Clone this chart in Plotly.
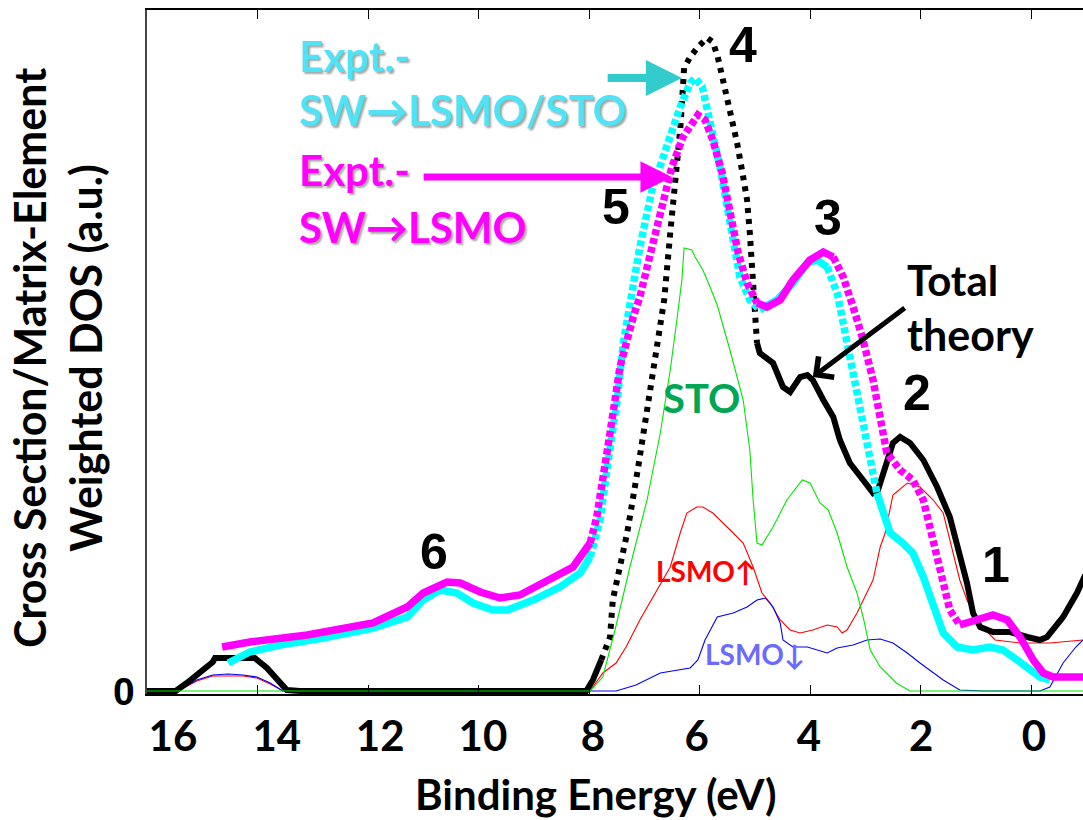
import plotly.graph_objects as go

# ---------------- data (binding energy in eV, intensity in a.u.) ----------------
black_E = [16.0, 15.48, 15.28, 15.04, 14.81, 14.77, 14.05, 13.83, 13.65, 13.47, 13.23, 8.05, 7.93, 7.78, 7.62,
           7.57, 7.31, 7.11, 6.93, 6.77, 6.64, 6.53, 6.41, 6.35, 6.30, 6.28, 6.17, 6.03, 5.86, 5.76, 5.67,
           5.57, 5.45, 5.32, 5.21, 5.14, 5.09, 5.05, 5.03, 5.01, 4.96, 4.91, 4.67, 4.49, 4.36, 4.18, 4.05,
           3.95, 3.76, 3.58, 3.46, 3.28, 3.04, 2.86, 2.77, 2.61, 2.50, 2.37, 2.19, 1.95, 1.70, 1.47, 1.29,
           1.16, 1.05, 0.92, 0.69, 0.38, 0.07, -0.16, -0.29, -0.58, -0.83, -0.98]
black_y = [0, 0, 0.08, 0.18, 0.29, 0.33, 0.33, 0.23, 0.13, 0.01, 0, 0, 0.11, 0.31, 0.54,
           0.91, 1.58, 2.24, 2.91, 3.48, 3.91, 4.58, 5.24, 5.61, 6.04, 6.23, 6.34, 6.44, 6.53, 6.49, 6.34,
           6.11, 5.81, 5.48, 5.14, 4.91, 4.58, 4.24, 3.94, 3.68, 3.48, 3.38, 3.28, 3.04, 2.99, 3.14, 3.16,
           3.11, 2.91, 2.74, 2.51, 2.28, 2.11, 1.98, 2.01, 2.31, 2.48, 2.54, 2.48, 2.31, 2.04, 1.74, 1.38,
           1.08, 0.78, 0.64, 0.59, 0.59, 0.54, 0.51, 0.54, 0.74, 0.98, 1.16]

cyan_E = [14.53, 14.14, 13.59, 12.81, 11.91, 11.29, 11.00, 10.70, 10.39, 10.10, 9.74, 9.48, 9.01, 8.53,
          8.16, 7.98, 7.86, 7.80, 7.67, 7.49, 7.38, 7.26, 7.08, 6.86, 6.59, 6.35, 6.17, 6.08, 5.95, 5.85,
          5.76, 5.63, 5.50, 5.39, 5.27, 5.09, 4.91, 4.60, 4.31, 4.05, 3.87, 3.69, 3.51, 3.40, 3.28, 3.15,
          3.04, 2.91, 2.79, 2.68, 2.55, 2.32, 2.14, 1.95, 1.77, 1.59, 1.34, 1.05, 0.74, 0.51, 0.25, 0.02,
          -0.16, -0.34]
cyan_y = [0.28, 0.39, 0.46, 0.53, 0.63, 0.74, 0.91, 1.01, 0.98, 0.88, 0.81, 0.81, 0.91, 1.04,
          1.18, 1.34, 1.58, 1.71, 2.24, 2.91, 3.48, 3.91, 4.44, 5.01, 5.48, 5.84, 6.08, 6.13, 6.04, 5.81,
          5.58, 5.24, 4.84, 4.48, 4.14, 3.91, 3.81, 3.91, 4.08, 4.28, 4.31, 4.24, 3.98, 3.68, 3.34, 2.98,
          2.64, 2.31, 1.98, 1.78, 1.58, 1.48, 1.38, 1.14, 0.84, 0.58, 0.44, 0.41, 0.44, 0.41, 0.31, 0.21,
          0.14, 0.11]

magenta_E = [14.64, 14.14, 13.10, 11.91, 11.29, 11.00, 10.57, 10.33, 9.97, 9.61, 9.25, 8.71, 8.29, 7.98,
             7.86, 7.62, 7.44, 7.20, 7.08, 6.77, 6.50, 6.30, 6.14, 6.03, 5.90, 5.76, 5.59, 5.45, 5.30,
             5.14, 4.96, 4.78, 4.54, 4.31, 4.00, 3.76, 3.58, 3.40, 3.22, 3.04, 2.86, 2.73, 2.61, 2.37,
             2.14, 1.95, 1.83, 1.70, 1.59, 1.47, 1.29, 0.98, 0.69, 0.43, 0.20, -0.04, -0.22, -0.40, -0.94]
magenta_y = [0.44, 0.49, 0.56, 0.68, 0.84, 0.98, 1.09, 1.08, 0.99, 0.93, 0.96, 1.11, 1.24, 1.48,
             1.74, 2.58, 3.24, 3.74, 3.94, 4.64, 5.24, 5.54, 5.68, 5.76, 5.71, 5.51, 5.18, 4.78, 4.38,
             4.08, 3.88, 3.84, 3.91, 4.11, 4.31, 4.39, 4.34, 4.14, 3.84, 3.51, 3.11, 2.71, 2.38, 2.21,
             2.11, 1.91, 1.64, 1.38, 1.08, 0.81, 0.66, 0.71, 0.76, 0.71, 0.54, 0.31, 0.18, 0.14, 0.14]

sto_E = [16.0, 7.98, 7.75, 7.53, 7.26, 6.95, 6.71, 6.53, 6.41, 6.32, 6.28, 6.14, 6.08, 5.94, 5.81, 5.68,
         5.45, 5.21, 5.09, 5.03, 4.96, 4.87, 4.67, 4.42, 4.14, 4.00, 3.82, 3.67, 3.51, 3.33, 3.15, 3.04,
         2.91, 2.73, 2.44, 2.19, -0.94]
sto_y = [0, 0, 0.14, 0.61, 1.24, 1.91, 2.58, 3.21, 3.71, 4.11, 4.43, 4.41, 4.34, 4.21, 4.04, 3.86,
         3.41, 2.91, 2.41, 1.91, 1.48, 1.46, 1.64, 1.91, 2.11, 2.08, 1.88, 1.81, 1.58, 1.24, 0.98, 0.74,
         0.41, 0.24, 0.08, 0, 0]

lsmo_up_E = [16.0, 15.44, 15.10, 14.81, 14.26, 14.01, 13.77, 13.54, 7.98, 7.93, 7.75, 7.51, 7.33, 7.08,
             6.77, 6.53, 6.35, 6.23, 6.05, 5.94, 5.76, 5.57, 5.39, 5.21, 5.14, 5.03, 4.87, 4.72, 4.54,
             4.36, 4.18, 3.95, 3.69, 3.51, 3.42, 3.33, 3.15, 2.97, 2.86, 2.73, 2.64, 2.50, 2.24, 2.01,
             1.77, 1.59, 1.41, 1.29, 1.16, 0.92, 0.65, 0.20, -0.34, -0.94]
lsmo_up_y = [0, 0, 0.10, 0.15, 0.15, 0.13, 0.07, 0, 0, 0.04, 0.18, 0.28, 0.44, 0.71,
             1.01, 1.24, 1.58, 1.78, 1.84, 1.84, 1.78, 1.68, 1.58, 1.48, 1.38, 1.24, 0.98, 0.88, 0.71,
             0.61, 0.58, 0.61, 0.66, 0.64, 0.58, 0.61, 0.78, 0.98, 1.11, 1.44, 1.58, 1.96, 2.08, 2.04,
             1.91, 1.78, 1.38, 1.11, 0.91, 0.66, 0.51, 0.48, 0.48, 0.51]

lsmo_dn_E = [16.0, 15.44, 15.10, 14.81, 14.53, 14.26, 14.01, 13.77, 13.54, 7.51, 7.15, 6.71, 6.17, 6.03,
             5.90, 5.81, 5.68, 5.39, 5.14, 4.96, 4.81, 4.67, 4.54, 4.49, 4.31, 4.05, 3.87, 3.69, 3.51,
             3.22, 2.97, 2.73, 2.50, 2.24, 2.01, 1.83, 1.59, 1.29, 0.87, -0.16, -0.34, -0.58, -0.81, -0.94]
lsmo_dn_y = [0, 0, 0.11, 0.16, 0.17, 0.16, 0.14, 0.08, 0, 0, 0.06, 0.18, 0.23, 0.31,
             0.51, 0.61, 0.74, 0.78, 0.84, 0.91, 0.93, 0.84, 0.68, 0.51, 0.44, 0.44, 0.41, 0.38, 0.43,
             0.46, 0.51, 0.52, 0.48, 0.38, 0.28, 0.21, 0.11, 0.01, 0, 0, 0.04, 0.28, 0.44, 0.51]

tick_values = [16, 14, 12, 10, 8, 6, 4, 2, 0]
tick_labels = ["16", "14", "12", "10", "8", "6", "4", "2", "0"]
tick_label_at = [15.53, 13.65, 11.78, 9.92, 7.93, 6.05, 4.02, 1.99, -0.05]

peak_labels = ["1", "2", "3", "4", "5", "6"]
peak_label_E = [0.63, 2.06, 3.67, 5.21, 7.51, 10.81]
peak_label_y = [1.26, 2.98, 4.73, 6.46, 4.84, 1.39]

# energy ranges where the sparse data points appear as separate dots
black_dotted = [(4.96, 7.80)]
cyan_dotted = [(4.96, 7.95), (2.75, 3.60)]
magenta_dotted = [(4.96, 7.95), (1.30, 3.60)]


def split_runs(E, y, ranges):
    """Split a series into solid and dotted runs (None-separated)."""
    solid = ([], [])
    dotted = ([], [])
    cur = None
    for i in range(len(E) - 1):
        mid = 0.5 * (E[i] + E[i + 1])
        is_dot = any(lo <= mid <= hi for lo, hi in ranges)
        tgt = dotted if is_dot else solid
        if cur is not tgt:
            if cur is not None:
                cur[0].append(None)
                cur[1].append(None)
            tgt[0].append(E[i])
            tgt[1].append(y[i])
            cur = tgt
        tgt[0].append(E[i + 1])
        tgt[1].append(y[i + 1])
    return solid, dotted


fig = go.Figure()

# thin theory components (STO drawn on the overlaid label axis, which shares the range)
fig.add_trace(go.Scatter(x=sto_E, y=sto_y, mode="lines", line=dict(color="#00e600", width=1.1),
                         name="STO", xaxis="x2", yaxis="y"))
fig.add_trace(go.Scatter(x=lsmo_up_E, y=lsmo_up_y, mode="lines", line=dict(color="#ff0000", width=1.1),
                         name="LSMO up"))
fig.add_trace(go.Scatter(x=lsmo_dn_E, y=lsmo_dn_y, mode="lines", line=dict(color="#0000ff", width=1.1),
                         name="LSMO down"))

for E, y, rng, color, w, dash in [
    (black_E, black_y, black_dotted, "#000000", 6, "5px,6px"),
    (cyan_E, cyan_y, cyan_dotted, "#00ffff", 7.5, "6px,3px"),
    (magenta_E, magenta_y, magenta_dotted, "#ff00ff", 7.5, "6px,3px"),
]:
    solid, dotted = split_runs(E, y, rng)
    fig.add_trace(go.Scatter(x=solid[0], y=solid[1], mode="lines", connectgaps=False,
                             line=dict(color=color, width=w)))
    fig.add_trace(go.Scatter(x=dotted[0], y=dotted[1], mode="lines", connectgaps=False,
                             line=dict(color=color, width=w, dash=dash)))

BOLD = "bold"
annotations = []

# peak numbers
for t, ex, ey in zip(peak_labels, peak_label_E, peak_label_y):
    annotations.append(dict(x=ex, y=ey, xref="x", yref="y", text=t, showarrow=False,
                            xanchor="center", yanchor="middle",
                            font=dict(family="Liberation Sans", size=50, weight=BOLD, color="black")))

# component labels
annotations += [
    dict(x=5.97, y=2.93, xref="x", yref="y", text="STO", showarrow=False,
         font=dict(family="Lato", size=40, weight=BOLD, color="#00a651")),
    dict(x=5.88, y=1.20, xref="x", yref="y", text="LSMO↑", showarrow=False,
         font=dict(family="Lato", size=28, weight=BOLD, color="#ff0000")),
    dict(x=5.00, y=0.37, xref="x", yref="y", text="LSMO↓", showarrow=False,
         font=dict(family="Lato", size=28, weight=BOLD, color="#6b6bff")),
]

# experiment labels
shadow = "2px 2px 2px rgba(0,0,0,0.35)"
for txt, ey, col in [("Expt.-", 6.35, "#4fe3f5"), ("SW→LSMO/STO", 5.81, "#4fe3f5"),
                     ("Expt.-", 5.21, "#ff00ff"), ("SW→LSMO", 4.64, "#ff00ff")]:
    annotations.append(dict(x=13.28, y=ey, xref="x", yref="y", text=txt, showarrow=False,
                            xanchor="left", yanchor="middle",
                            font=dict(family="Lato", size=42, weight=BOLD, color=col, shadow=shadow)))

# Total theory
annotations += [
    dict(x=2.28, y=4.11, xref="x", yref="y", text="Total", showarrow=False, xanchor="left",
         yanchor="middle", font=dict(family="Lato", size=42, weight=BOLD, color="black")),
    dict(x=2.28, y=3.57, xref="x", yref="y", text="theory", showarrow=False, xanchor="left",
         yanchor="middle", font=dict(family="Lato", size=43, weight=BOLD, color="black")),
]

# arrows
annotations += [
    dict(x=6.32, y=6.13, ax=7.69, ay=6.13, xref="x", yref="y", axref="x", ayref="y", text="",
         showarrow=True, arrowhead=2, arrowsize=0.9, arrowwidth=8, arrowcolor="#33cccc"),
    dict(x=6.50, y=5.14, ax=11.02, ay=5.14, xref="x", yref="y", axref="x", ayref="y", text="",
         showarrow=True, arrowhead=2, arrowsize=0.9, arrowwidth=7, arrowcolor="#ff00ff"),
    dict(x=3.95, y=3.14, ax=2.26, ay=3.84, xref="x", yref="y", axref="x", ayref="y", text="",
         showarrow=True, arrowhead=4, arrowsize=1.0, arrowwidth=5, arrowcolor="black"),
]

# axis titles and the single y tick label
annotations += [
    dict(x=0.4797, y=0, xref="paper", yref="paper", yshift=-100, text="Binding Energy (eV)",
         showarrow=False, xanchor="center", yanchor="middle",
         font=dict(family="Lato", size=42, weight=BOLD, color="black")),
    dict(x=0, y=0.5, xref="paper", yref="paper", xshift=-90, yshift=-6,
         text="Cross Section/Matrix-Element<br>Weighted DOS (a.u.)", textangle=-90,
         showarrow=False, xanchor="center", yanchor="middle",
         font=dict(family="Lato", size=43, weight=BOLD, color="black")),
    dict(x=0, y=0, xref="paper", yref="y", xshift=-10, text="<b>0</b>", showarrow=False,
         xanchor="right", yanchor="middle",
         font=dict(family="Liberation Sans", size=39, color="black")),
]

fig.update_layout(
    width=1083, height=820,
    margin=dict(l=147, r=0, t=10, b=126),
    plot_bgcolor="white", paper_bgcolor="white",
    showlegend=False,
    font=dict(family="Lato", color="black"),
    xaxis=dict(range=[16, -0.94], tickmode="array", tickvals=tick_values, ticks="inside", ticklen=9,
               tickwidth=1.3, tickcolor="black", showticklabels=False, showline=True,
               linecolor="black", linewidth=1.5, mirror="ticks", showgrid=False, zeroline=False),
    xaxis2=dict(overlaying="x", matches="x", anchor="y", side="bottom", range=[16, -0.94],
                tickmode="array", tickvals=tick_label_at, ticktext=tick_labels, ticks="",
                showline=False, showgrid=False, zeroline=False, ticklabelstandoff=14,
                tickfont=dict(family="Lato", size=42, weight=BOLD, color="black")),
    yaxis=dict(range=[-0.03, 6.81], tickmode="array", tickvals=[0], showticklabels=False, ticks="",
               showline=True, linecolor="#444", linewidth=1.5, showgrid=False, zeroline=False),
    annotations=annotations,
)

fig.write_html("out.html")
